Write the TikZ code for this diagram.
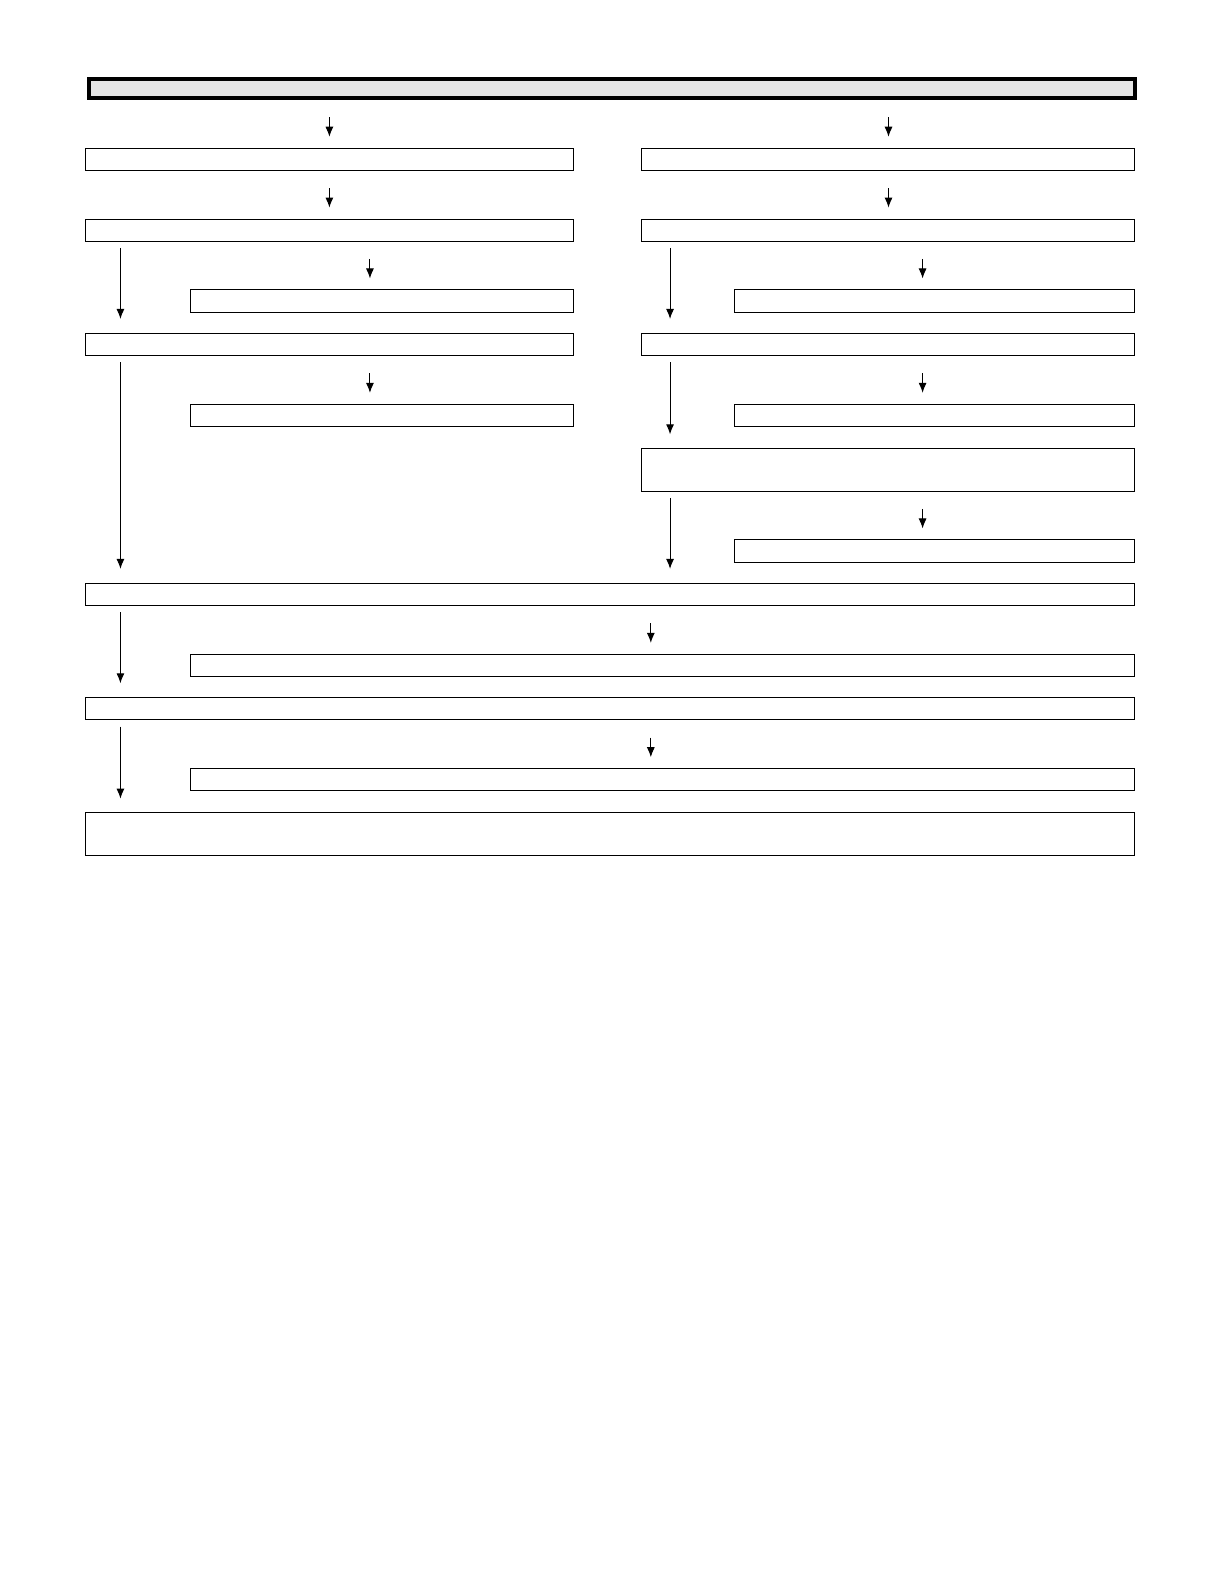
\documentclass[tikz,border=0pt]{standalone}
\usepackage{tikz}
\usetikzlibrary{arrows,arrows.meta}

\begin{document}
\begin{tikzpicture}[x=1pt,y=-1pt,scale=1.0118,transform shape,>={Latex[length=10pt,width=8pt]}]
\tikzstyle{box} = [rectangle, draw, line width=1pt, inner sep=0pt, anchor=north west, minimum height=22]
\tikzstyle{head} = [box, line width=4pt, fill=black!10, minimum height=19]
\tikzstyle{short} = [->, line width=1pt, shorten <=17pt, shorten >=11pt]
\tikzstyle{long} = [->, line width=1pt, shorten <=6pt, shorten >=14pt]
\useasboundingbox (0,0) rectangle (1205.7,1569.5);
\node[head, minimum width=1034] (HDR) at (86,76) {};
% left column
\node[box, minimum width=482] (L1) at (84,146) {};
\node[box, minimum width=482] (L2) at (84,216) {};
\node[box, minimum width=378] (LS3) at (188,286) {};
\node[box, minimum width=482] (L4) at (84,329) {};
\node[box, minimum width=378] (LS5) at (188,399) {};
% right column
\node[box, minimum width=487] (R1) at (634,146) {};
\node[box, minimum width=487] (R2) at (634,216) {};
\node[box, minimum width=396] (RS3) at (725,286) {};
\node[box, minimum width=487] (R4) at (634,329) {};
\node[box, minimum width=396] (RS5) at (725,399) {};
\node[box, minimum width=487, minimum height=42] (R6) at (634,443) {};
\node[box, minimum width=396] (RS7) at (725,533) {};
% full width
\node[box, minimum width=1037] (W1) at (84,576) {};
\node[box, minimum width=933] (WS1) at (188,646) {};
\node[box, minimum width=1037] (W2) at (84,689) {};
\node[box, minimum width=933] (WS2) at (188,759) {};
\node[box, minimum width=1037, minimum height=42] (FIN) at (84,803) {};
% arrow columns
\coordinate (LS3a) at ([xshift=-12]LS3.north);
\coordinate (LS5a) at ([xshift=-12]LS5.north);
\coordinate (RS3a) at ([xshift=-12]RS3.north);
\coordinate (RS5a) at ([xshift=-12]RS5.north);
\coordinate (RS7a) at ([xshift=-12]RS7.north);
\coordinate (WS1a) at ([xshift=-12]WS1.north);
\coordinate (WS2a) at ([xshift=-12]WS2.north);
\coordinate (La) at ([xshift=35]L2.south west);
\coordinate (Ra) at ([xshift=28]R2.south west);
\path (HDR.south -| L1.north) edge[short] (L1.north)
      (HDR.south -| R1.north) edge[short] (R1.north)
      (L1.south) edge[short] (L2.north)
      (R1.south) edge[short] (R2.north)
      (L2.south -| LS3a) edge[short] (LS3a)
      (R2.south -| RS3a) edge[short] (RS3a)
      (L4.south -| LS5a) edge[short] (LS5a)
      (R4.south -| RS5a) edge[short] (RS5a)
      (R6.south -| RS7a) edge[short] (RS7a)
      (W1.south -| WS1a) edge[short] (WS1a)
      (W2.south -| WS2a) edge[short] (WS2a);
\path (L2.south -| La) edge[long] (L4.north -| La)
      (L4.south -| La) edge[long] (W1.north -| La)
      (W1.south -| La) edge[long] (W2.north -| La)
      (W2.south -| La) edge[long] (FIN.north -| La)
      (R2.south -| Ra) edge[long] (R4.north -| Ra)
      (R4.south -| Ra) edge[long] (R6.north -| Ra)
      (R6.south -| Ra) edge[long] (W1.north -| Ra);
\end{tikzpicture}
\end{document}
